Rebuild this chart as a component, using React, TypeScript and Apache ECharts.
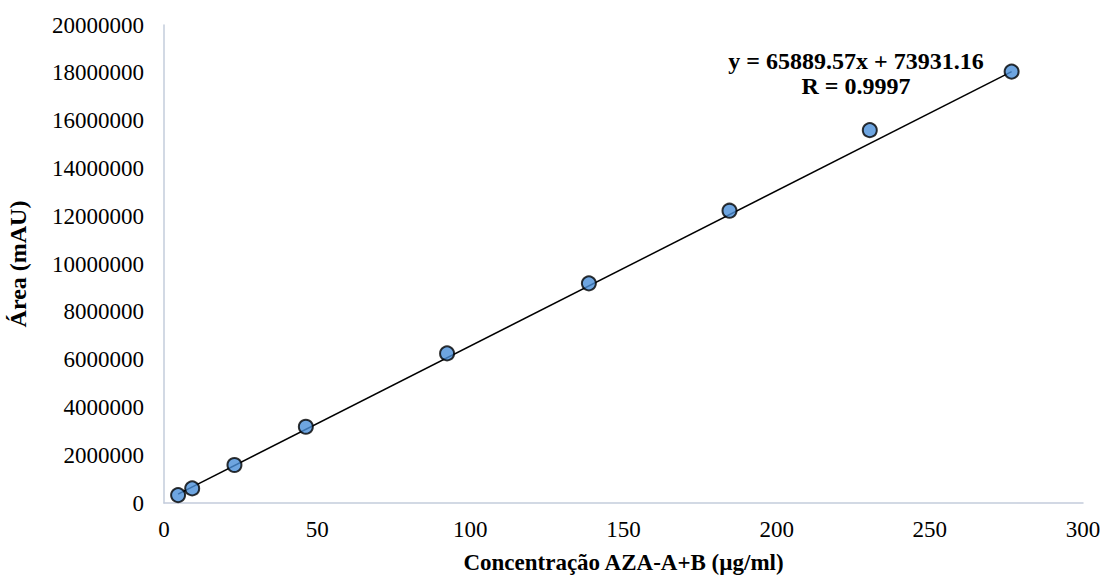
import React, { useEffect, useRef } from "react";
import * as echarts from "echarts";

const concentrations = [4.6, 9.2, 23, 46.3, 92.4, 138.7, 184.6, 230.4, 276.7];
const areas = [330000, 610000, 1590000, 3190000, 6260000, 9190000, 12230000, 15600000, 18050000];
const trendX = [4.6, 276.7];
const trendY = [370000, 18050000];
const xTicks = [0, 50, 100, 150, 200, 250, 300];
const yTicks = [0, 2000000, 4000000, 6000000, 8000000, 10000000, 12000000, 14000000, 16000000, 18000000, 20000000];
const equationText = "y = 65889.57x + 73931.16";
const rText = "R = 0.9997";
const xTitle = "Concentração AZA-A+B (µg/ml)";
const yTitle = "Área (mAU)";

export default function App() {
  const ref = useRef<HTMLDivElement>(null);
  useEffect(() => {
    if (!ref.current) return;
    const chart = echarts.init(ref.current, null, { renderer: "svg" });
    const font = "'Liberation Serif', 'Times New Roman', serif";
    const axisColor = "#C3CCDB";
    chart.setOption({
      animation: false,
      backgroundColor: "#ffffff",
      grid: { left: 164, right: 19, top: 25, bottom: 74, containLabel: false, outerBoundsMode: "none" },
      xAxis: {
        type: "value",
        min: xTicks[0],
        max: xTicks[xTicks.length - 1],
        interval: xTicks[1] - xTicks[0],
        axisLine: { show: true, lineStyle: { color: axisColor, width: 1.5 } },
        axisTick: { show: false },
        splitLine: { show: false },
        axisLabel: { color: "#000", fontFamily: font, fontSize: 23, margin: 15 },
        name: xTitle,
        nameLocation: "middle",
        nameGap: 48,
        nameTextStyle: { color: "#000", fontFamily: font, fontSize: 23, fontWeight: "bold" },
      },
      yAxis: {
        type: "value",
        min: yTicks[0],
        max: yTicks[yTicks.length - 1],
        interval: yTicks[1] - yTicks[0],
        axisLine: { show: true, lineStyle: { color: axisColor, width: 1.5 } },
        axisTick: { show: false },
        splitLine: { show: false },
        axisLabel: {
          color: "#000",
          fontFamily: font,
          fontSize: 23,
          margin: 20,
          formatter: (v: number) => String(v),
        },
        name: yTitle,
        nameLocation: "middle",
        nameGap: 134,
        nameTextStyle: { color: "#000", fontFamily: font, fontSize: 24, fontWeight: "bold" },
      },
      series: [
        {
          type: "line",
          data: trendX.map((x, i) => [x, trendY[i]]),
          symbol: "none",
          lineStyle: { color: "#000", width: 1.5 },
          z: 2,
        },
        {
          type: "scatter",
          data: concentrations.map((x, i) => [x, areas[i]]),
          symbol: "circle",
          symbolSize: 14,
          itemStyle: { color: "#4A8FD8", borderColor: "#000", borderWidth: 2 },
          z: 3,
        },
      ],
      graphic: [
        {
          type: "text",
          x: 856,
          y: 61,
          style: {
            text: equationText,
            align: "center",
            verticalAlign: "middle",
            font: "bold 24px " + font,
            fill: "#000",
          },
        },
        {
          type: "text",
          x: 856,
          y: 86,
          style: {
            text: rText,
            align: "center",
            verticalAlign: "middle",
            font: "bold 24px " + font,
            fill: "#000",
          },
        },
      ],
    });
    return () => chart.dispose();
  }, []);
  return <div ref={ref} style={{ width: 1102, height: 577, position: "absolute", left: 0, top: 0 }} />;
}
